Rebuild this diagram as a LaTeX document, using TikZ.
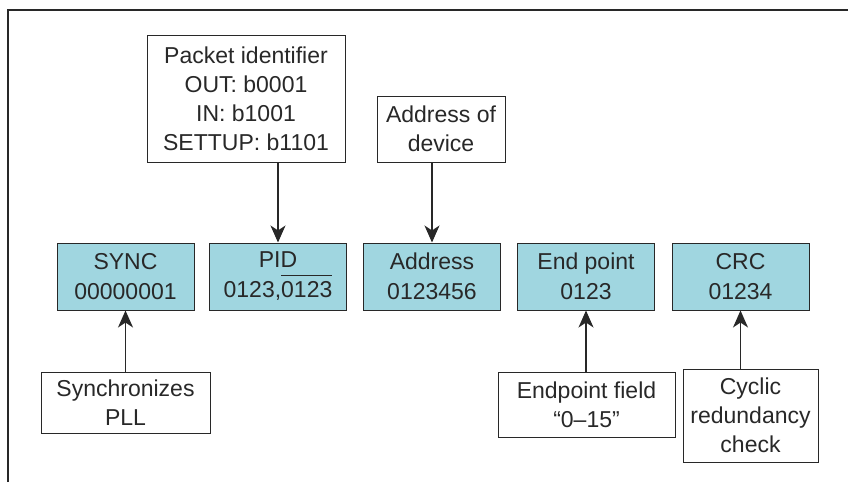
\documentclass[tikz,border=0pt]{standalone}
\usepackage{fontspec}
\setmainfont{Liberation Sans}
\usetikzlibrary{arrows.meta}
\definecolor{fieldfill}{RGB}{160,214,224}
\definecolor{inkgray}{RGB}{40,40,40}
% overline drawn a little above the digits
\newcommand\barred[1]{\leavevmode\vbox{\hrule height 1.2pt\kern 5.5pt\hbox{#1}}}
\tikzset{
  fieldbox/.style={draw=inkgray, line width=1pt, fill=fieldfill, inner sep=0pt,
    minimum width=137pt, minimum height=67pt, align=center, text=inkgray,
    font=\fontsize{23}{30}\selectfont},
  notebox/.style={draw=inkgray, line width=1pt, fill=white, inner sep=0pt,
    align=center, text=inkgray, font=\fontsize{23}{29}\selectfont},
  pointer/.style={draw=inkgray, line width=1.2pt,
    -{Stealth[length=17pt,width=15pt,inset=5pt]}},
  frameline/.style={draw=inkgray, line width=1.6pt}
}
\begin{document}
\begin{tikzpicture}[x=1pt,y=-1pt]
\useasboundingbox (0,0) rectangle (848,482);
% frame
\draw[frameline] (8,482) -- (8,10) -- (848,10);

% packet fields
\node[fieldbox] (sync) at (125.5,276.5) {SYNC\\00000001};
\node[fieldbox] (pid)  at (278,276.5)   {PID\\0123,\barred{0123}};
\node[fieldbox] (addr) at (432,276.5)   {Address\\0123456};
\node[fieldbox] (endp) at (586,276.5)   {End point\\0123};
\node[fieldbox] (crc)  at (740.5,276.5) {CRC\\01234};

% explanations above
\node[notebox, minimum width=198pt, minimum height=127pt] (pidnote) at (246,98.5)
  {Packet identifier\\OUT: b0001\\IN: b1001\\SETTUP: b1101};
\node[notebox, minimum width=128pt, minimum height=66pt] (addrnote) at (441,129)
  {Address of\\device};

% explanations below
\node[notebox, minimum width=169pt, minimum height=61pt] (syncnote) at (125.5,402.5)
  {Synchronizes\\PLL};
\node[notebox, minimum width=177pt, minimum height=65pt] (endpnote) at (586.5,404.5)
  {Endpoint field\\“0–15”};
\node[notebox, minimum width=135pt, minimum height=93pt] (crcnote) at (750.5,415.5)
  {Cyclic\\redundancy\\check};

% pointers
\draw[pointer] (pid.north |- pidnote.south) -- (pid.north);
\draw[pointer] (addr.north |- addrnote.south) -- (addr.north);
\draw[pointer] (sync.south |- syncnote.north) -- (sync.south);
\draw[pointer] (endp.south |- endpnote.north) -- (endp.south);
\draw[pointer] (crc.south |- crcnote.north) -- (crc.south);
\end{tikzpicture}
\end{document}
